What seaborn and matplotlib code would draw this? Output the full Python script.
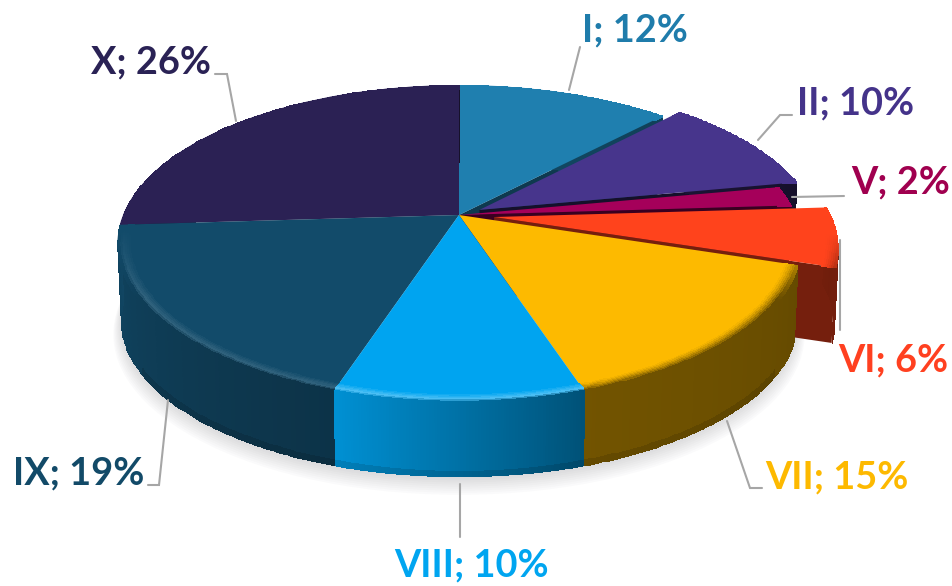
import numpy as np
import matplotlib
matplotlib.use("Agg")
import matplotlib.pyplot as plt
from matplotlib.patches import Circle, Polygon
from matplotlib.transforms import Transform
from matplotlib.colors import to_rgb
import seaborn as sns

names = ["I", "II", "V", "VI", "VII", "VIII", "IX", "X"]
shares = [12, 10, 2, 6, 15, 10, 19, 26]
colors = ["#1F7FAF", "#47358C", "#A5005A", "#FF431C", "#FDBA00", "#00A4F0", "#124B6A", "#2B2154"]
label_colors = ["#1F7CAB", "#44338A", "#A0004F", "#FF4020", "#FDB900", "#00A5F0", "#124A68", "#2A2255"]
explode = [0, 0.07, 0, 0.105, 0, 0, 0, 0]
wall_left = [.6, .38, .4, .46, .45, .88, .92, .6]
wall_right = [.5, .30, .3, .44, .40, .50, .68, .5]
highlight = [0, 0, 0, 0, 0, .30, .13, 0]
edge_dark = [.45, .3, .35, .46, 0, 0, 0, 0]
label_xy = [(582, 30), (797, 103), (851, 182), (838, 360), (765, 477), (394, 565), (13, 473), (91, 62)]
leaders = [[(569, 90), (580, 47)],
           [(758, 140), (780, 115), (792, 115)],
           [(792, 197), (844, 196)],
           [(840, 240), (840, 330)],
           [(727, 421), (750, 488), (762, 488)],
           [(460, 484), (460, 537)],
           [(168, 400), (159, 485), (148, 485)],
           [(236, 121), (227, 74), (215, 74)]]
draw_order = [0, 7, 1, 2, 3, 4, 6, 5]

CX, CY, A, B, K, DROP = 459.0, 215.0, 153.4, 336.0, 0.18, 76.0


class Persp(Transform):
    input_dims = 2
    output_dims = 2
    is_affine = False
    has_inverse = False

    def __init__(self, drop=0.0, scale=1.0):
        super().__init__()
        self.drop, self.scale = drop, scale

    def transform_non_affine(self, v):
        v = np.asarray(v, float)
        x, y = v[..., 0], v[..., 1]
        w = 1 + K * y
        return np.stack([CX + B * self.scale * x / w,
                         CY + self.drop - A * self.scale * y / w], axis=-1)


sns.set_theme(style="white")
plt.rcParams["font.family"] = ["Lato", "DejaVu Sans"]
palette = sns.color_palette(colors)

fig = plt.figure(figsize=(9.53, 5.86), dpi=100)
ax = fig.add_axes([0, 0, 1, 1])
wedges, _ = ax.pie(shares, colors=palette, explode=explode, startangle=90, counterclock=False,
                   radius=1, wedgeprops=dict(linewidth=0))
ax.set_aspect("auto")
ax.set_xlim(0, 953)
ax.set_ylim(586, 0)
ax.axis("off")

# soft shadow under the pie
for i in range(10):
    ax.add_patch(Circle((0, 0), 1.0, transform=Persp(DROP + 1 + i * 1.5, 0.985 + i * 0.003) + ax.transData,
                        fc="#8a8a90", ec="none", alpha=0.035, zorder=1))

top = Persp()
bottom = Persp(DROP, 0.99)
z = 5
for i in draw_order:
    wd = wedges[i]
    c = np.array(to_rgb(colors[i]))
    t1, t2 = wd.theta1, wd.theta2
    c0 = np.array(wd.center)
    th = np.radians(np.linspace(t1, t2, 90))
    rim = np.stack([c0[0] + np.cos(th), c0[1] + np.sin(th)], axis=-1)

    # lower cut face of the separated slices
    if edge_dark[i] > 0:
        a = np.radians(t1)
        pe = c0 + [np.cos(a), np.sin(a)]
        pts = np.vstack([top.transform_non_affine(np.array([c0, pe])),
                         bottom.transform_non_affine(np.array([pe, c0]))])
        ax.add_patch(Polygon(pts, closed=True, fc=c * edge_dark[i], ec="none", zorder=z))
    z += 1

    # outer wall, lighter towards its left end
    nt = 14
    tt = np.linspace(0, 1, nt + 1)[..., None, None]
    P0 = top.transform_non_affine(rim)
    P1 = bottom.transform_non_affine(rim)
    G = P0[None, ...] * (1 - tt) + P1[None, ...] * tt
    thm = (th[:-1] + th[1:]) / 2
    f = np.linspace(wall_left[i], wall_right[i], len(thm))
    fac = np.empty_like(f)
    fac[np.argsort(np.cos(thm))] = f
    tm = (tt[:-1, 0, 0] + tt[1:, 0, 0]) / 2
    front = np.sin(thm) < -0.5
    shade = np.where((tm[:, None] > 0.93) & front[None, :], 0.88, 1.0)
    C = c[None, None, :] * fac[None, :, None] * shade[:, :, None]
    ax.pcolormesh(G[..., 0], G[..., 1], np.clip(C, 0, 1), shading="flat", edgecolors="face",
                  linewidth=0.4, zorder=z)
    z += 1

    # flat top
    wd.set_transform(top + ax.transData)
    wd.set_zorder(z)
    z += 1

    # bevel along the front rim
    rr = np.linspace(0.96, 1.0, 8)[:, None]
    cth, sth = np.cos(th)[None, :], np.sin(th)[None, :]
    XY = np.stack([c0[0] + rr * cth, c0[1] + rr * sth], axis=-1)
    B2 = top.transform_non_affine(XY)
    fade = np.clip(-(np.sin(thm) + 0.1) / 0.4, 0, 1)[None, :, None]
    s = np.linspace(0, 1, 7)[:, None, None]
    hi_col = c + (1 - c) * highlight[i]
    wall_top = c * fac[None, :, None]
    if highlight[i] == 0:
        col = c * (1 - s ** 1.5) + wall_top * s ** 1.5
    else:
        bump = np.clip(s / 0.7, 0, 1)
        late = np.clip((s - 0.7) / 0.3, 0, 1)
        col = (c * (1 - bump) + hi_col * bump) * (1 - late) + wall_top * late
    col = c * (1 - fade) + col * fade
    ax.pcolormesh(B2[..., 0], B2[..., 1], np.clip(col, 0, 1), shading="flat", edgecolors="face",
                  linewidth=0.4, zorder=z)
    z += 1

# leader lines
for pts in leaders:
    xs, ys = zip(*pts)
    ax.plot(xs, ys, color="#a6a6a6", lw=1.5, zorder=z, solid_joinstyle="miter")

# labels
for nm, sh, col, (lx, ly) in zip(names, shares, label_colors, label_xy):
    ax.text(lx, ly, f"{nm}; {sh}%", color=col, fontsize=27.3, fontweight="bold",
            ha="left", va="center", zorder=z + 1)

fig.savefig("out.png", dpi=100, facecolor="white")
